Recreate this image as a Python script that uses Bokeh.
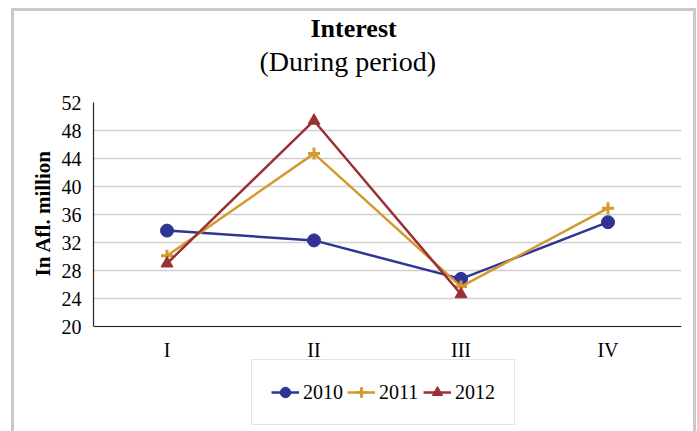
from bokeh.plotting import figure
from bokeh.models import Title, Legend, LegendItem, FixedTicker, Range1d, Span
from bokeh.embed import file_html
from bokeh.resources import INLINE

# ---- data ----
categories = ["I", "II", "III", "IV"]
y2010 = [33.7, 32.3, 26.8, 34.9]
y2011 = [30.1, 44.7, 25.7, 36.9]
cat2012 = ["I", "II", "III"]
y2012 = [29.0, 49.4, 24.6]
y_ticks = [20, 24, 28, 32, 36, 40, 44, 48, 52]
series_names = ["2010", "2011", "2012"]
title_text = "Interest"
subtitle_text = "(During period)"
y_label = "In Afl. million"

Y_MIN, Y_MAX = 20, 52
PX_PER_UNIT = 7            # vertical scale of the value axis
FRAME_H = 331              # frame also holds the legend under the axis
y_start = Y_MAX - FRAME_H / PX_PER_UNIT
AXIS_PX_FROM_BOTTOM = FRAME_H - (Y_MAX - Y_MIN) * PX_PER_UNIT

FONT = "Liberation Serif"
C10 = "#2f3495"
C11 = "#d49a2f"
C12 = "#993034"
AXIS_C = "#262626"

p = figure(x_range=categories, y_range=Range1d(y_start, Y_MAX),
           frame_width=588, frame_height=FRAME_H,
           output_backend="svg", toolbar_location=None,
           min_border_left=79, min_border_right=12, min_border_top=10,
           min_border_bottom=0)
p.styles = {"border": "3px solid #c9c9c9"}
p.margin = (8, 0, 0, 11)
p.outline_line_color = None
p.background_fill_color = "white"
p.border_fill_color = "white"

# value axis
p.yaxis.ticker = FixedTicker(ticks=y_ticks)
p.yaxis.bounds = (Y_MIN, Y_MAX)
p.ygrid.ticker = FixedTicker(ticks=y_ticks)
p.ygrid.bounds = (Y_MIN, Y_MAX)
p.xgrid.grid_line_color = None
p.ygrid.grid_line_color = "#d0d0d0"
p.ygrid.grid_line_width = 1.3

ax = p.yaxis[0]
ax.major_tick_line_color = None
ax.minor_tick_line_color = None
ax.axis_line_color = AXIS_C
ax.axis_line_width = 1.2
ax.major_label_text_font = FONT
ax.major_label_text_font_size = "20px"
ax.major_label_text_color = "black"
ax.major_label_standoff = 6

# value-axis title, centred on the 20..52 span (not the whole frame)
p.add_layout(Title(text=y_label, align="left",
                   offset=AXIS_PX_FROM_BOTTOM + 50,
                   text_font=FONT, text_font_size="21px",
                   text_font_style="bold", text_color="black",
                   standoff=8), "left")

# category axis: line at the value-axis minimum, labels under it
p.xaxis.visible = False
p.add_layout(Span(location=Y_MIN, dimension="width", line_color=AXIS_C,
                  line_width=1.2))
p.text(x=categories, y=[Y_MIN] * len(categories), text=categories,
       text_align="center", text_baseline="alphabetic", y_offset=23,
       text_font={"value": FONT}, text_font_size="20px", text_color="black")

# series
r10 = p.line(categories, y2010, line_color=C10, line_width=2.5)
s10 = p.scatter(categories, y2010, marker="circle", size=13,
                fill_color=C10, line_color=C10)
r11 = p.line(categories, y2011, line_color=C11, line_width=2.5)
s11 = p.scatter(categories, y2011, marker="cross", size=12,
                line_color=C11, line_width=3)
r12 = p.line(cat2012, y2012, line_color=C12, line_width=2.5)
s12 = p.scatter(cat2012, y2012, marker="triangle", size=12,
                fill_color=C12, line_color=C12)

legend = Legend(items=[
    LegendItem(label=series_names[0], renderers=[r10, s10]),
    LegendItem(label=series_names[1], renderers=[r11, s11]),
    LegendItem(label=series_names[2], renderers=[r12, s12]),
], orientation="horizontal", location=(158, 8),
    label_text_font=FONT, label_text_font_size="20px",
    label_text_color="black",
    glyph_width=28, glyph_height=26, label_standoff=4, label_width=40,
    label_height=26, spacing=4, padding=19, margin=0,
    border_line_color="#c8c8c8", border_line_width=1.5,
    background_fill_color="white", background_fill_alpha=1.0)
p.add_layout(legend)

# spacer (closest to the frame), subtitle, then main title
p.add_layout(Title(text=" ", text_font=FONT, text_font_size="10px",
                   standoff=13), "above")
p.add_layout(Title(text=subtitle_text, align="left", offset=166,
                   text_font=FONT, text_font_size="28px",
                   text_font_style="normal", text_color="black",
                   standoff=0), "above")
p.add_layout(Title(text=title_text, align="left", offset=217,
                   text_font=FONT, text_font_size="26px",
                   text_font_style="bold", text_color="black",
                   standoff=1), "above")

open("out.html", "w").write(file_html(p, INLINE))
